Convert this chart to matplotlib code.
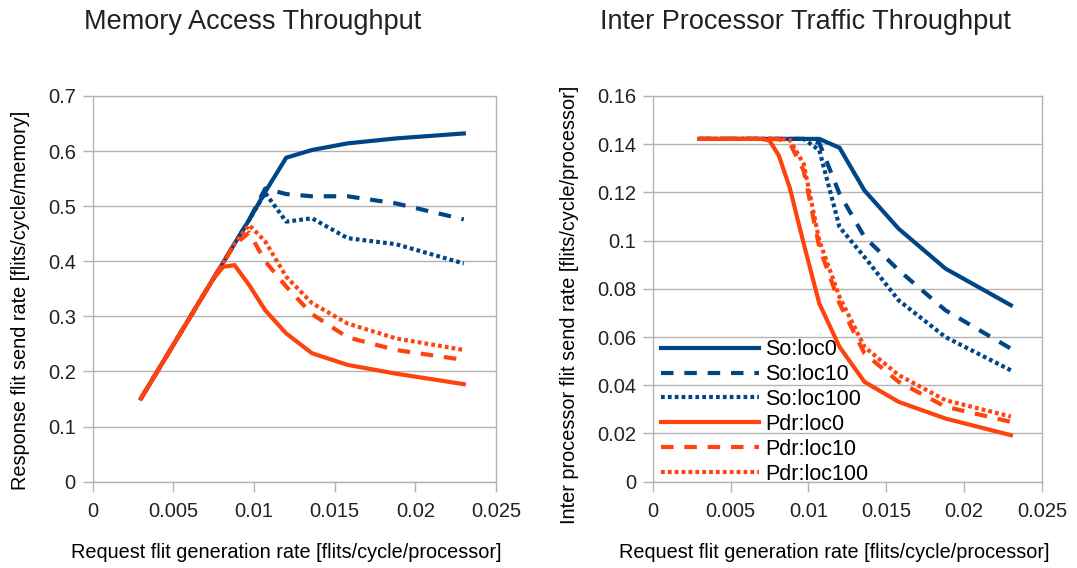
import matplotlib

matplotlib.use('Agg')
import matplotlib.pyplot as plt

plt.rcParams['font.family'] = ['Liberation Sans', 'DejaVu Sans']

# request flit generation rate [flits/cycle/processor]
rates = [0.0030, 0.0070, 0.0075, 0.0081, 0.0088, 0.0097, 0.0107,
         0.0120, 0.0136, 0.0158, 0.0188, 0.0230]

# response flit send rate [flits/cycle/memory]
mem_so_loc0 = [0.151, 0.345, 0.369, 0.398, 0.432, 0.475, 0.526,
               0.588, 0.602, 0.614, 0.623, 0.632]
mem_so_loc10 = [0.151, 0.345, 0.369, 0.398, 0.432, 0.475, 0.532,
                0.522, 0.518, 0.518, 0.505, 0.476]
mem_so_loc100 = [0.151, 0.345, 0.369, 0.398, 0.432, 0.475, 0.524,
                 0.472, 0.478, 0.442, 0.431, 0.396]
mem_pdr_loc0 = [0.151, 0.345, 0.369, 0.390, 0.393, 0.357, 0.311,
                0.269, 0.233, 0.212, 0.196, 0.177]
mem_pdr_loc10 = [0.151, 0.345, 0.369, 0.398, 0.430, 0.452, 0.400,
                 0.354, 0.304, 0.262, 0.239, 0.221]
mem_pdr_loc100 = [0.151, 0.345, 0.369, 0.398, 0.432, 0.466, 0.436,
                  0.372, 0.324, 0.287, 0.260, 0.239]

# inter processor flit send rate [flits/cycle/processor]
ipt_so_loc0 = [0.1422, 0.1422, 0.1422, 0.1422, 0.1422, 0.1422, 0.1422,
               0.1385, 0.1208, 0.1049, 0.0884, 0.0732]
ipt_so_loc10 = [0.1422, 0.1422, 0.1422, 0.1422, 0.1422, 0.1422, 0.1405,
                0.1194, 0.1015, 0.0877, 0.0711, 0.0552]
ipt_so_loc100 = [0.1422, 0.1422, 0.1422, 0.1422, 0.1422, 0.1422, 0.1375,
                 0.1056, 0.0932, 0.0752, 0.0600, 0.0462]
ipt_pdr_loc0 = [0.1422, 0.1422, 0.1415, 0.1353, 0.1220, 0.0987, 0.0739,
                0.0559, 0.0414, 0.0331, 0.0262, 0.0193]
ipt_pdr_loc10 = [0.1422, 0.1422, 0.1422, 0.1420, 0.1405, 0.1290, 0.0973,
                 0.0739, 0.0532, 0.0414, 0.0311, 0.0248]
ipt_pdr_loc100 = [0.1422, 0.1422, 0.1422, 0.1422, 0.1418, 0.1318, 0.1000,
                  0.0766, 0.0559, 0.0442, 0.0338, 0.0270]

labels = ['So:loc0', 'So:loc10', 'So:loc100', 'Pdr:loc0', 'Pdr:loc10', 'Pdr:loc100']

blue = '#004586'
orange = '#ff420e'
colors = [blue, blue, blue, orange, orange, orange]
styles = ['-', (0, (3.0, 2.6)), (0, (0.9, 0.75)),
          '-', (0, (3.0, 2.6)), (0, (0.9, 0.75))]

grey = '#b3b3b3'
label_size = 14.3


def style_axes(ax, ymax, ystep):
    ax.set_xlim(0, 0.025)
    ax.set_ylim(0, ymax)
    ax.set_xticks([0, 0.005, 0.01, 0.015, 0.02, 0.025])
    ax.set_xticklabels(['0', '0.005', '0.01', '0.015', '0.02', '0.025'])
    n = int(round(ymax / ystep))
    yt = [i * ystep for i in range(n + 1)]
    ax.set_yticks(yt)
    ax.set_yticklabels(['0'] + ['%g' % round(v, 3) for v in yt[1:]])
    ax.grid(axis='y', color=grey, linewidth=1.0)
    ax.set_axisbelow(True)
    for s in ax.spines.values():
        s.set_color(grey)
        s.set_linewidth(1.0)
    ax.tick_params(colors=grey, labelcolor='#222222', labelsize=14.5,
                   length=7, width=1.0, pad=5)
    ax.tick_params(axis='x', pad=8)


fig = plt.figure(figsize=(10.77, 5.68), dpi=100)

ax1 = fig.add_axes([0.0859, 0.152, 0.3747, 0.679])
mem_series = [mem_so_loc0, mem_so_loc10, mem_so_loc100,
              mem_pdr_loc0, mem_pdr_loc10, mem_pdr_loc100]
for vals, c, ls, lab in zip(mem_series, colors, styles, labels):
    ax1.plot(rates, vals, color=c, linestyle=ls, linewidth=3.0, label=lab,
             solid_joinstyle='miter', dash_capstyle='butt')
style_axes(ax1, 0.7, 0.1)
ax1.set_ylabel('Response flit send rate [flits/cycle/memory]', fontsize=label_size)
ax1.set_xlabel('Request flit generation rate [flits/cycle/processor]', fontsize=label_size)
ax1.yaxis.set_label_coords(-0.155, 0.47)
ax1.xaxis.set_label_coords(0.481, -0.158)

ax2 = fig.add_axes([0.606, 0.152, 0.3615, 0.679])
ipt_series = [ipt_so_loc0, ipt_so_loc10, ipt_so_loc100,
              ipt_pdr_loc0, ipt_pdr_loc10, ipt_pdr_loc100]
for vals, c, ls, lab in zip(ipt_series, colors, styles, labels):
    ax2.plot(rates, vals, color=c, linestyle=ls, linewidth=3.0, label=lab,
             solid_joinstyle='miter', dash_capstyle='butt')
style_axes(ax2, 0.16, 0.02)
ax2.set_ylabel('Inter processor flit send rate [flits/cycle/processor]', fontsize=label_size)
ax2.set_xlabel('Request flit generation rate [flits/cycle/processor]', fontsize=label_size)
ax2.yaxis.set_label_coords(-0.19, 0.458)
ax2.xaxis.set_label_coords(0.466, -0.158)

ax2.legend(loc='lower left', bbox_to_anchor=(0.0, -0.03), frameon=False,
           fontsize=15.5, handlelength=4.55, handletextpad=0.28, labelspacing=0.18,
           borderaxespad=0.2, borderpad=0.2)

fig.text(0.235, 0.962, 'Memory Access Throughput', fontsize=19.5, ha='center', va='center',
         color='#222222')
fig.text(0.7475, 0.962, 'Inter Processor Traffic Throughput', fontsize=19.5, ha='center',
         va='center', color='#222222')

fig.savefig('out.png', dpi=100)
